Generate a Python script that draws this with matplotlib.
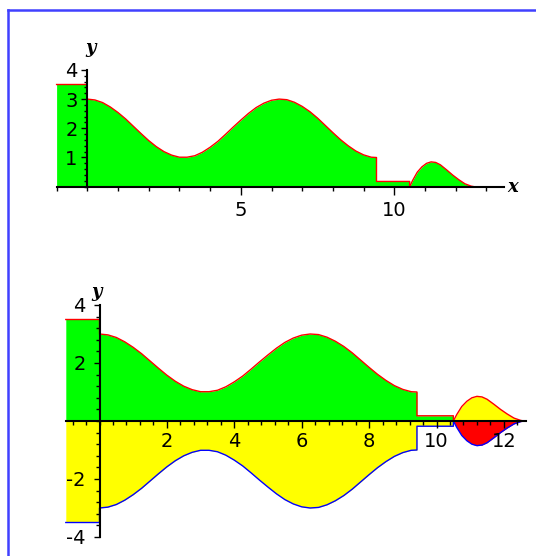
import matplotlib
matplotlib.use("Agg")
import matplotlib.pyplot as plt
from matplotlib.lines import Line2D
import numpy as np

plt.rcParams["axes.unicode_minus"] = False

# profile of the solid
left_x = [-1.0, 0.0]
left_y = [3.5, 3.5]

wave_x = [0.0, 0.25, 0.5, 0.75, 1.0, 1.25, 1.5, 1.75, 2.0, 2.25, 2.5, 2.75,
          3.0, 3.25, 3.5, 3.75, 4.0, 4.25, 4.5, 4.75, 5.0, 5.25, 5.5, 5.75,
          6.0, 6.25, 6.5, 6.75, 7.0, 7.25, 7.5, 7.75, 8.0, 8.25, 8.5, 8.75,
          9.0, 9.25, 9.42]
wave_y = [3.00, 2.97, 2.88, 2.73, 2.54, 2.32, 2.07, 1.82, 1.58, 1.37, 1.20, 1.08,
          1.01, 1.01, 1.06, 1.18, 1.35, 1.55, 1.79, 2.04, 2.28, 2.51, 2.71, 2.86,
          2.96, 3.00, 2.98, 2.89, 2.75, 2.57, 2.35, 2.10, 1.85, 1.61, 1.40, 1.22,
          1.09, 1.01, 1.00]

flat_x = [9.42, 10.5]
flat_y = [0.18, 0.18]

bump_x = [10.5, 10.6, 10.75, 10.9, 11.05, 11.2, 11.35, 11.5, 11.7, 11.9,
          12.1, 12.3, 12.5, 12.6]
bump_y = [0.0, 0.22, 0.5, 0.68, 0.8, 0.85, 0.83, 0.75, 0.58, 0.4,
          0.24, 0.1, 0.02, 0.0]

top_xticks = [5, 10]
top_yticks = [1, 2, 3, 4]
bot_xticks = [2, 4, 6, 8, 10, 12]
bot_yticks = [-4, -2, 2, 4]

GREEN = "#00ff00"
YELLOW = "#ffff00"
RED = "#ff0000"
BLUE = "#0000ff"

W, H = 536, 556
fig = plt.figure(figsize=(W / 100, H / 100), dpi=100)
fig.patch.set_facecolor("white")


def place(x0, ux, y0, uy, xlim, ylim):
    # put an axes so that data (0,0) lands on pixel (x0,y0)
    left = x0 + ux * xlim[0]
    right = x0 + ux * xlim[1]
    top = y0 - uy * ylim[1]
    bot = y0 - uy * ylim[0]
    ax = fig.add_axes([left / W, 1 - bot / H, (right - left) / W, (bot - top) / H])
    ax.set_xlim(xlim)
    ax.set_ylim(ylim)
    ax.patch.set_alpha(0)
    for s in ["top", "right"]:
        ax.spines[s].set_visible(False)
    for s in ["left", "bottom"]:
        ax.spines[s].set_position(("data", 0))
        ax.spines[s].set_linewidth(1.5)
    ax.set_axisbelow(False)
    return ax


main_x = np.array(left_x + wave_x + flat_x + [10.5])
main_y = np.array(left_y + wave_y + flat_y + [0.0])
bx = np.array(bump_x)
by = np.array(bump_y)

label_font = dict(family="DejaVu Serif", style="italic", weight="bold", size=13)

# ---- top plot
ax1 = place(87.3, 30.7, 186.7, 29.2, (-1.5, 14.5), (-2.5, 5))
ax1.fill_between(main_x, 0, main_y, color=GREEN, lw=0)
ax1.fill_between(bx, 0, by, color=GREEN, lw=0)
ax1.plot(main_x, main_y, color=RED, lw=1.0)
ax1.plot(bx, by, color=RED, lw=1.0)
ax1.spines["left"].set_bounds(0, 4)
ax1.spines["bottom"].set_bounds(-1, 13.56)
ax1.set_xticks(top_xticks)
ax1.set_xticks(np.arange(-1, 14), minor=True)
ax1.set_yticks(top_yticks)
ax1.set_yticks(np.arange(0, 4.01, 0.2), minor=True)
ax1.tick_params(axis="x", which="major", length=6, width=1, pad=4, labelsize=14)
ax1.tick_params(axis="x", which="minor", length=3, width=1)
ax1.tick_params(axis="y", which="major", length=4, width=1, pad=3, labelsize=14)
ax1.tick_params(axis="y", which="minor", length=2, width=1)
ax1.text(0.1, 4.75, "y", ha="center", va="center", **label_font)
ax1.text(13.85, 0.0, "x", ha="center", va="center", **label_font)

# ---- bottom plot
ax2 = place(99.5, 33.7, 421, 29.0, (-1.5, 12.9), (-4.6, 4.9))
ax2.fill_between(main_x, 0, main_y, color=GREEN, lw=0)
ax2.fill_between(main_x, -main_y, 0, color=YELLOW, lw=0)
ax2.fill_between(bx, 0, by, color=YELLOW, lw=0)
ax2.fill_between(bx, -by, 0, color=RED, lw=0)
ax2.plot(main_x, main_y, color=RED, lw=1.0)
ax2.plot(bx, by, color=RED, lw=1.0)
ax2.plot(main_x, -main_y, color=BLUE, lw=1.0)
ax2.plot(bx, -by, color=BLUE, lw=1.0)
ax2.spines["left"].set_bounds(-4, 4)
ax2.spines["bottom"].set_bounds(-1, 12.65)
ax2.set_xticks(bot_xticks)
ax2.set_xticks(np.arange(-0.8, 12.5, 0.4), minor=True)
ax2.set_yticks(bot_yticks)
ax2.set_yticks(np.arange(-4, 4.01, 0.4), minor=True)
ax2.tick_params(axis="x", which="major", length=5, width=1, pad=3, labelsize=14)
ax2.tick_params(axis="x", which="minor", length=3, width=1)
ax2.tick_params(axis="y", which="major", length=4, width=1, pad=6, labelsize=14)
ax2.tick_params(axis="y", which="minor", length=3, width=1)
ax2.text(-0.08, 4.45, "y", ha="center", va="center", **label_font)

# blue frame round the worksheet region
fig.add_artist(Line2D([8 / W, 8 / W], [0, 1 - 10 / H], color="#4040ff", lw=1.8,
                      transform=fig.transFigure))
fig.add_artist(Line2D([8 / W, 1], [1 - 10 / H, 1 - 10 / H], color="#4040ff", lw=1.8,
                      transform=fig.transFigure))

fig.savefig("out.png", dpi=100)
